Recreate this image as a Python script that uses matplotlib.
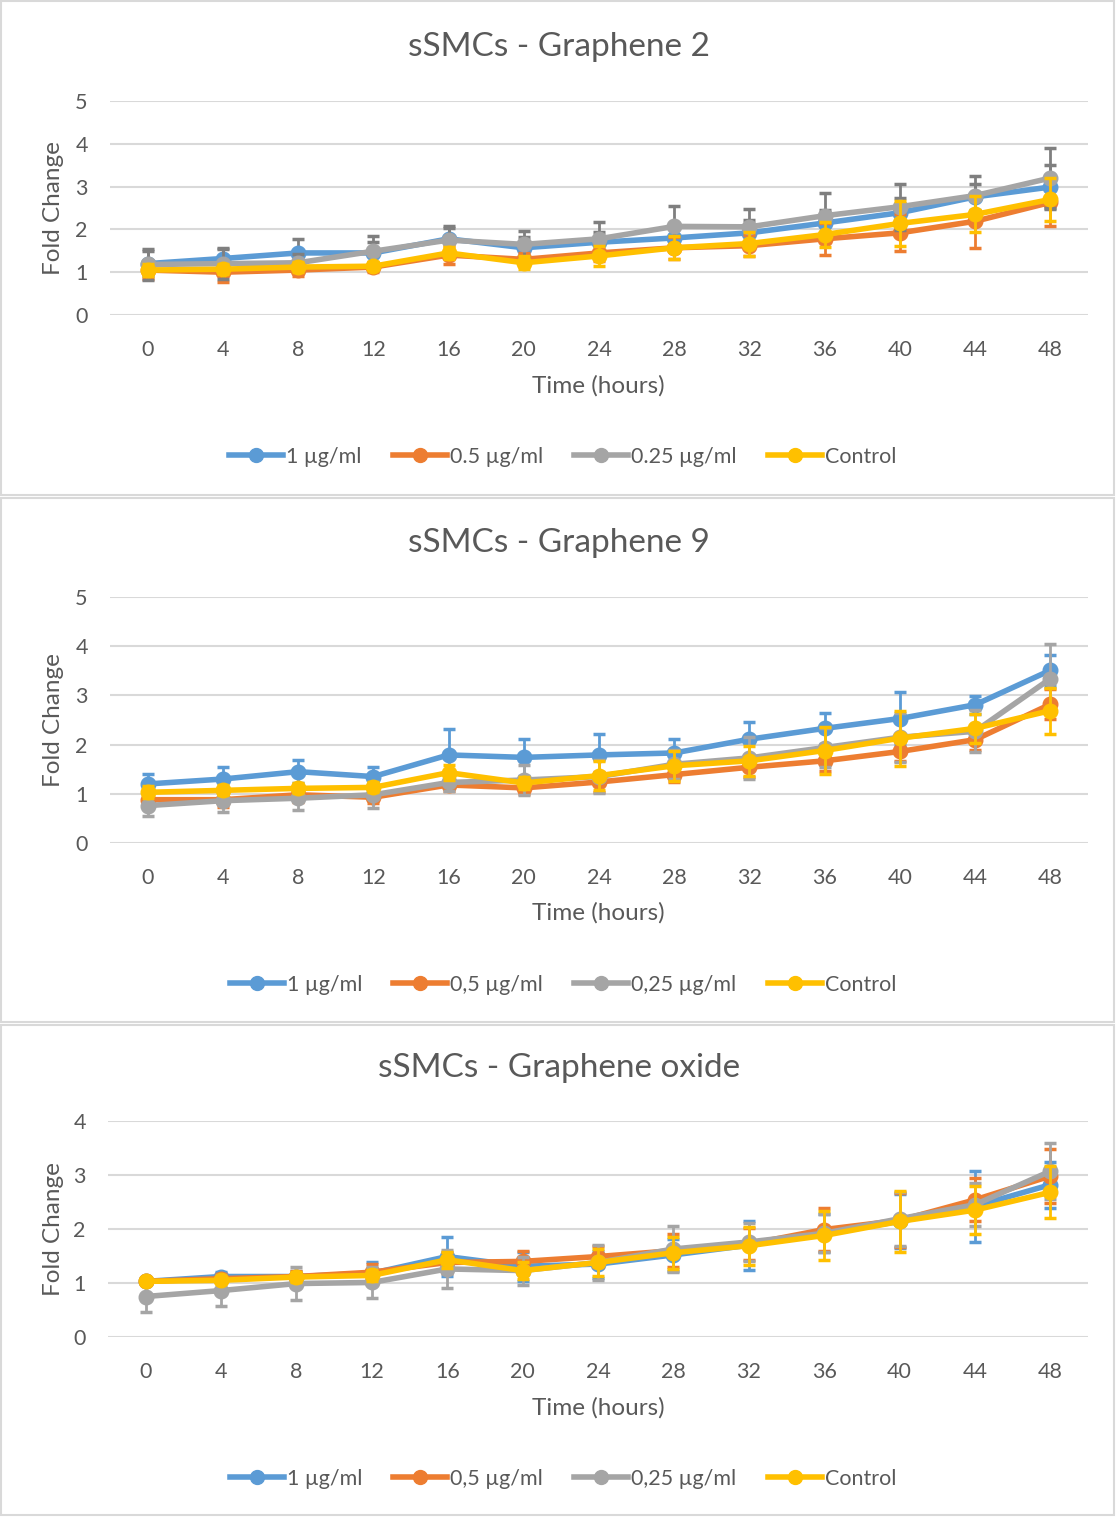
import matplotlib
matplotlib.use('Agg')
import matplotlib.pyplot as plt
from matplotlib.patches import Rectangle
from matplotlib.lines import Line2D

plt.rcParams['font.family'] = ['Lato', 'DejaVu Sans']

W, H = 1116, 1517
TXT = '#595959'
GRID = '#d9d9d9'
COLORS = ['#5B9BD5', '#ED7D31', '#A5A5A5', '#FFC000']

hours = [0, 4, 8, 12, 16, 20, 24, 28, 32, 36, 40, 44, 48]

# Graphene 2
g2_1 = [1.20, 1.32, 1.45, 1.45, 1.78, 1.57, 1.70, 1.80, 1.92, 2.15, 2.39, 2.76, 2.99]
g2_05 = [1.05, 1.00, 1.05, 1.12, 1.40, 1.30, 1.45, 1.57, 1.62, 1.78, 1.92, 2.19, 2.63]
g2_025 = [1.18, 1.20, 1.22, 1.49, 1.75, 1.65, 1.78, 2.07, 2.06, 2.32, 2.53, 2.79, 3.20]
g2_ctrl = [1.05, 1.07, 1.12, 1.14, 1.45, 1.22, 1.38, 1.57, 1.67, 1.88, 2.14, 2.35, 2.70]
g2_e1 = [0.30, 0.25, 0.33, 0.25, 0.25, 0.25, 0.25, 0.30, 0.30, 0.30, 0.35, 0.30, 0.52]
g2_e05 = [0.20, 0.23, 0.15, 0.12, 0.22, 0.15, 0.20, 0.25, 0.25, 0.37, 0.43, 0.62, 0.55]
g2_e025 = [0.37, 0.35, 0.20, 0.35, 0.32, 0.32, 0.40, 0.47, 0.42, 0.52, 0.54, 0.45, 0.70]
g2_ectrl = [0.15, 0.12, 0.12, 0.10, 0.15, 0.15, 0.24, 0.27, 0.28, 0.30, 0.52, 0.42, 0.50]

# Graphene 9
g9_1 = [1.20, 1.30, 1.45, 1.35, 1.79, 1.74, 1.79, 1.83, 2.11, 2.33, 2.53, 2.81, 3.51]
g9_05 = [0.88, 0.88, 0.98, 0.93, 1.18, 1.12, 1.24, 1.39, 1.54, 1.67, 1.86, 2.10, 2.82]
g9_025 = [0.76, 0.86, 0.91, 0.98, 1.23, 1.28, 1.35, 1.60, 1.73, 1.94, 2.15, 2.27, 3.34]
g9_ctrl = [1.03, 1.07, 1.11, 1.13, 1.43, 1.22, 1.37, 1.57, 1.67, 1.88, 2.13, 2.33, 2.69]
g9_e1 = [0.20, 0.24, 0.24, 0.19, 0.52, 0.37, 0.42, 0.28, 0.34, 0.32, 0.53, 0.18, 0.31]
g9_e05 = [0.15, 0.15, 0.15, 0.12, 0.12, 0.12, 0.20, 0.15, 0.20, 0.20, 0.20, 0.20, 0.30]
g9_e025 = [0.21, 0.22, 0.23, 0.27, 0.18, 0.30, 0.34, 0.30, 0.43, 0.40, 0.50, 0.43, 0.70]
g9_ectrl = [0.12, 0.10, 0.10, 0.10, 0.15, 0.12, 0.30, 0.30, 0.30, 0.47, 0.56, 0.30, 0.47]

# Graphene oxide
go_1 = [1.03, 1.12, 1.12, 1.18, 1.49, 1.31, 1.35, 1.52, 1.70, 1.92, 2.14, 2.42, 2.82]
go_05 = [1.03, 1.08, 1.12, 1.20, 1.38, 1.40, 1.49, 1.60, 1.72, 1.99, 2.16, 2.54, 2.98]
go_025 = [0.75, 0.86, 0.99, 1.01, 1.26, 1.23, 1.38, 1.63, 1.76, 1.92, 2.19, 2.45, 3.07]
go_ctrl = [1.03, 1.05, 1.11, 1.14, 1.43, 1.23, 1.38, 1.56, 1.69, 1.88, 2.14, 2.35, 2.68]
go_e1 = [0.05, 0.08, 0.10, 0.20, 0.36, 0.27, 0.25, 0.30, 0.45, 0.35, 0.50, 0.66, 0.43]
go_e05 = [0.05, 0.08, 0.10, 0.15, 0.20, 0.20, 0.20, 0.30, 0.30, 0.39, 0.50, 0.40, 0.50]
go_e025 = [0.29, 0.29, 0.30, 0.29, 0.35, 0.26, 0.32, 0.42, 0.35, 0.35, 0.50, 0.40, 0.52]
go_ectrl = [0.05, 0.05, 0.10, 0.10, 0.15, 0.15, 0.25, 0.30, 0.35, 0.46, 0.57, 0.45, 0.48]

labels_dot = ['1 µg/ml', '0.5 µg/ml', '0.25 µg/ml', 'Control']
labels_comma = ['1 µg/ml', '0,5 µg/ml', '0,25 µg/ml', 'Control']

fig = plt.figure(figsize=(W / 100, H / 100), dpi=100)


def fx(px):
    return px / W


def fy(py):
    return 1 - py / H


def panel(box, plot, ymax, title, series, errs, labels, err_colors, title_y, xlab_y, leg_y):
    # panel frame
    x0, y0, x1, y1 = box
    fig.patches.append(Rectangle((fx(x0), fy(y1)), fx(x1 - x0), (y1 - y0) / H,
                                 transform=fig.transFigure, fill=False,
                                 edgecolor=GRID, linewidth=1.5))
    left, top, right, bottom = plot
    ax = fig.add_axes([fx(left), fy(bottom), fx(right - left), (bottom - top) / H])
    idx = list(range(len(hours)))
    for i, (vals, e) in enumerate(zip(series, errs)):
        ax.errorbar(idx, vals, yerr=e, color=COLORS[i], ecolor=err_colors[i],
                    elinewidth=2, capsize=4.5, capthick=2.5, linewidth=4,
                    marker='o', markersize=10.5, zorder=3 + i)
    ax.set_xlim(-0.5, len(hours) - 0.5)
    ax.set_ylim(0, ymax)
    ax.set_yticks(range(ymax + 1))
    ax.set_xticks(idx)
    ax.set_xticklabels([str(h) for h in hours])
    ax.grid(axis='y', color=GRID, linewidth=1.5)
    ax.set_axisbelow(True)
    for s in ax.spines.values():
        s.set_visible(False)
    ax.tick_params(length=0, labelsize=15.5, colors=TXT)
    ax.tick_params(axis='y', pad=16)
    ax.tick_params(axis='x', pad=18)
    fig.text(fx(559), fy(title_y), title, ha='center', va='center', fontsize=24, color=TXT)
    fig.text(fx(598), fy(xlab_y), 'Time (hours)', ha='center', va='center', fontsize=17.5, color=TXT)
    fig.text(fx(54), fy((top + bottom) / 2), 'Fold Change', ha='center', va='center',
             rotation=90, fontsize=17.5, color=TXT)
    handles = [Line2D([], [], color=c, linewidth=4, marker='o', markersize=10) for c in COLORS]
    ax.legend(handles, labels, loc='center', bbox_to_anchor=(fx(563), fy(leg_y)),
              bbox_transform=fig.transFigure, ncol=4, frameon=False,
              fontsize=15.5, handlelength=2.5, handletextpad=0.15,
              columnspacing=1.45, labelcolor=TXT)
    return ax


dark = '#7F7F7F'
panel((1, 1, 1114, 495), (110, 101, 1088, 315), 5, 'sSMCs - Graphene 2',
      [g2_1, g2_05, g2_025, g2_ctrl], [g2_e1, g2_e05, g2_e025, g2_ectrl],
      labels_dot, [dark, COLORS[1], dark, COLORS[3]], 47, 386, 457)
panel((1, 498, 1114, 1022), (110, 597, 1088, 843), 5, 'sSMCs - Graphene 9',
      [g9_1, g9_05, g9_025, g9_ctrl], [g9_e1, g9_e05, g9_e025, g9_ectrl],
      labels_comma, COLORS, 543, 913, 985)
panel((1, 1025, 1114, 1515), (108, 1121, 1088, 1337), 4, 'sSMCs - Graphene oxide',
      [go_1, go_05, go_025, go_ctrl], [go_e1, go_e05, go_e025, go_ectrl],
      labels_comma, COLORS, 1068, 1408, 1479)

fig.savefig('out.png', dpi=100)
